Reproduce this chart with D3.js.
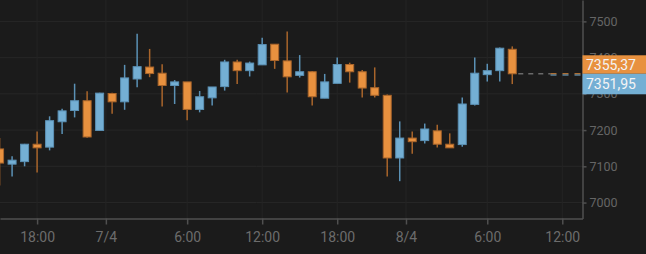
<!DOCTYPE html>
<html>
<head>
<meta charset="utf-8">
<script src="https://cdn.jsdelivr.net/npm/d3@7"></script>
<style>
  html, body { margin: 0; padding: 0; background: #1b1b1b; }
  #chart { width: 646px; height: 254px; }
  text { font-family: Roboto, "Noto Sans", sans-serif; }
</style>
</head>
<body>
<div id="chart"></div>
<script>
// Hourly candles, 6/4 15:00 -> 8/4 08:00
const times = [
  '06/04 15:00', '06/04 16:00', '06/04 17:00', '06/04 18:00', '06/04 19:00', '06/04 20:00',
  '06/04 21:00', '06/04 22:00', '06/04 23:00', '07/04 00:00', '07/04 01:00', '07/04 02:00',
  '07/04 03:00', '07/04 04:00', '07/04 05:00', '07/04 06:00', '07/04 07:00', '07/04 08:00',
  '07/04 09:00', '07/04 10:00', '07/04 11:00', '07/04 12:00', '07/04 13:00', '07/04 14:00',
  '07/04 15:00', '07/04 16:00', '07/04 17:00', '07/04 18:00', '07/04 19:00', '07/04 20:00',
  '07/04 21:00', '07/04 22:00', '07/04 23:00', '08/04 00:00', '08/04 01:00', '08/04 02:00',
  '08/04 03:00', '08/04 04:00', '08/04 05:00', '08/04 06:00', '08/04 07:00', '08/04 08:00'
];
const open = [
  7148, 7106, 7113, 7161, 7153, 7223, 7254, 7281, 7199, 7301, 7278, 7341,
  7374, 7357, 7323, 7333, 7257, 7289, 7320, 7388, 7364, 7380, 7437, 7391,
  7351, 7361, 7288, 7329, 7381, 7361, 7317, 7296, 7123, 7178, 7171, 7198,
  7161, 7160, 7271, 7353, 7364, 7423
];
const high = [
  7178, 7128, 7162, 7196, 7238, 7259, 7328, 7307, 7303, 7303, 7380, 7466,
  7424, 7382, 7338, 7333, 7308, 7319, 7394, 7394, 7389, 7455, 7437, 7472,
  7407, 7363, 7355, 7400, 7386, 7366, 7373, 7298, 7224, 7196, 7218, 7215,
  7191, 7290, 7400, 7383, 7428, 7431
];
const low = [
  7047, 7072, 7100, 7083, 7144, 7189, 7235, 7179, 7198, 7245, 7256, 7318,
  7346, 7265, 7272, 7227, 7249, 7268, 7309, 7327, 7348, 7380, 7369, 7304,
  7345, 7268, 7288, 7329, 7331, 7290, 7290, 7072, 7059, 7135, 7163, 7152,
  7151, 7154, 7268, 7334, 7334, 7327
];
const close = [
  7109, 7117, 7161, 7151, 7226, 7253, 7281, 7181, 7302, 7278, 7344, 7375,
  7356, 7323, 7333, 7257, 7292, 7319, 7388, 7364, 7385, 7436, 7392, 7347,
  7361, 7292, 7333, 7381, 7361, 7316, 7296, 7123, 7178, 7168, 7203, 7161,
  7151, 7272, 7357, 7364, 7426, 7355.37
];

const lastPrice = 7355.37;
const otherPrice = 7351.95;

const xDomain = ['06/04 15:02', '08/04 13:37'];
const yDomain = [6956, 7559];
const yTicks = [7000, 7100, 7200, 7300, 7400, 7500];
const xTickTimes = ['06/04 18:00', '06/04 23:30', '07/04 06:00', '07/04 12:00',
                    '07/04 18:00', '07/04 23:30', '08/04 06:00', '08/04 12:00'];
const xTickLabels = ['18:00', '7/4', '6:00', '12:00', '18:00', '8/4', '6:00', '12:00'];

const upFill = '#74afd4', upLine = '#5b91b5';
const downFill = '#e8913f', downLine = '#a9652b';

const width = 646, height = 254;
const plotW = 582.5, plotH = 218.5;

const parse = d3.timeParse('%d/%m %H:%M');
const data = times.map((t, i) => ({
  t: parse(t), o: open[i], h: high[i], l: low[i], c: close[i]
}));

const x = d3.scaleTime().domain(xDomain.map(parse)).range([0, plotW]);
const y = d3.scaleLinear().domain(yDomain).range([plotH, 0]);

const svg = d3.select('#chart').append('svg')
  .attr('width', width)
  .attr('height', height);

svg.append('rect').attr('width', width).attr('height', height).attr('fill', '#1b1b1b');

// grid
svg.append('g').selectAll('line').data(yTicks).join('line')
  .attr('x1', 0).attr('x2', plotW)
  .attr('y1', d => y(d)).attr('y2', d => y(d))
  .attr('stroke', '#272727');
svg.append('g').selectAll('line').data(xTickTimes).join('line')
  .attr('x1', d => x(parse(d))).attr('x2', d => x(parse(d)))
  .attr('y1', 0).attr('y2', plotH)
  .attr('stroke', '#242424');

// candles
const candles = svg.append('g').selectAll('g').data(data).join('g');
candles.append('line')
  .attr('x1', d => x(d.t)).attr('x2', d => x(d.t))
  .attr('y1', d => y(d.h)).attr('y2', d => y(d.l))
  .attr('stroke', d => d.c >= d.o ? upLine : downLine)
  .attr('stroke-width', 1.5);
candles.append('rect')
  .attr('x', d => x(d.t) - 4)
  .attr('width', 8)
  .attr('y', d => y(Math.max(d.o, d.c)))
  .attr('height', d => Math.max(1, Math.abs(y(d.o) - y(d.c))))
  .attr('fill', d => d.c >= d.o ? upFill : downFill)
  .attr('stroke', d => d.c >= d.o ? upLine : downLine)
  .attr('stroke-width', 1);

// last price lines
const last = data[data.length - 1];
svg.append('line')
  .attr('x1', x(last.t) + 6).attr('x2', plotW - 32)
  .attr('y1', y(lastPrice)).attr('y2', y(lastPrice))
  .attr('stroke', '#6a6a6a').attr('stroke-width', 1.5)
  .attr('stroke-dasharray', '5,5');
svg.append('line')
  .attr('x1', plotW - 32).attr('x2', plotW)
  .attr('y1', y(lastPrice)).attr('y2', y(lastPrice))
  .attr('stroke', downFill).attr('stroke-width', 1)
  .attr('stroke-dasharray', '6,6');
svg.append('line')
  .attr('x1', plotW - 32).attr('x2', plotW)
  .attr('y1', y(otherPrice)).attr('y2', y(otherPrice))
  .attr('stroke', upFill).attr('stroke-width', 1)
  .attr('stroke-dasharray', '6,6');

// axes
const xAxis = svg.append('g')
  .attr('transform', `translate(0,${plotH})`)
  .call(d3.axisBottom(x)
    .tickValues(xTickTimes.map(parse))
    .tickFormat((d, i) => xTickLabels[i])
    .tickSize(6).tickSizeOuter(0).tickPadding(8));
xAxis.select('.domain').attr('stroke', '#505050').attr('stroke-width', 1.5);
xAxis.selectAll('.tick line').attr('stroke', '#505050').attr('stroke-width', 1.5);
xAxis.selectAll('.tick text')
  .attr('fill', '#6c6c6c').attr('font-size', '14px')
  .style('font-family', 'Roboto, sans-serif');

const yAxis = svg.append('g')
  .attr('transform', `translate(${plotW},0)`)
  .call(d3.axisRight(y)
    .tickValues(yTicks)
    .tickFormat(d3.format('d'))
    .tickSize(4).tickSizeOuter(0).tickPadding(3));
yAxis.select('.domain').attr('stroke', '#505050').attr('stroke-width', 1.5);
yAxis.selectAll('.tick line').attr('stroke', '#505050').attr('stroke-width', 1.5);
yAxis.selectAll('.tick text')
  .attr('fill', '#656565').attr('font-size', '12.5px')
  .style('font-family', 'Roboto, sans-serif');

// price tags (cover the axis labels behind them, as in the original)
const tagY = y(lastPrice);
const tags = [
  { value: lastPrice, fill: downFill, y0: tagY - 18.5, h: 18.5 },
  { value: otherPrice, fill: upFill, y0: tagY, h: 20.5 }
];
const tag = svg.append('g').selectAll('g').data(tags).join('g');
tag.append('rect')
  .attr('x', plotW).attr('width', width - plotW)
  .attr('y', d => d.y0).attr('height', d => d.h)
  .attr('fill', d => d.fill);
tag.append('text')
  .attr('x', plotW + 3.5)
  .attr('y', d => d.y0 + d.h / 2)
  .attr('dy', '0.36em')
  .attr('font-size', '14px')
  .attr('fill', '#f4f4f4')
  .text(d => d.value.toFixed(2).replace('.', ','));
</script>
</body>
</html>
